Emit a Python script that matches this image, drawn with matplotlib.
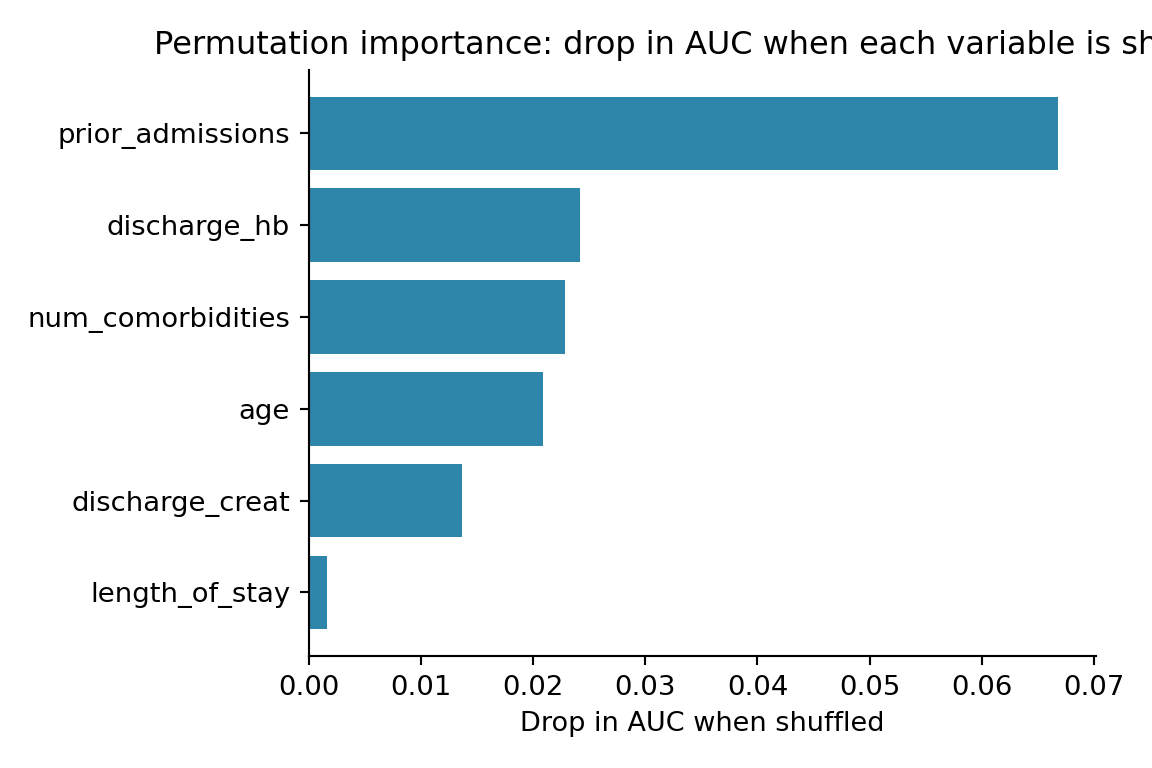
import matplotlib
matplotlib.use('Agg')
import matplotlib.pyplot as plt

features = ['prior_admissions', 'discharge_hb', 'num_comorbidities',
            'age', 'discharge_creat', 'length_of_stay']
auc_drop = [0.0668, 0.0242, 0.0228, 0.0209, 0.0137, 0.0016]

fig, ax = plt.subplots(figsize=(6, 4), dpi=192)
fig.subplots_adjust(left=0.268, right=0.951, top=0.909, bottom=0.146)

pos = list(range(len(features)))[::-1]
ax.barh(pos, auc_drop, height=0.8, color='#2E86AB')
ax.set_yticks(pos)
ax.set_yticklabels(features)
ax.tick_params(labelsize=10.3)
ax.set_xlabel('Drop in AUC when shuffled', fontsize=10.2)
ax.set_title('Permutation importance: drop in AUC when each variable is shuffled', fontsize=12)
ax.spines['top'].set_visible(False)
ax.spines['right'].set_visible(False)

fig.savefig('out.png', dpi=192)
